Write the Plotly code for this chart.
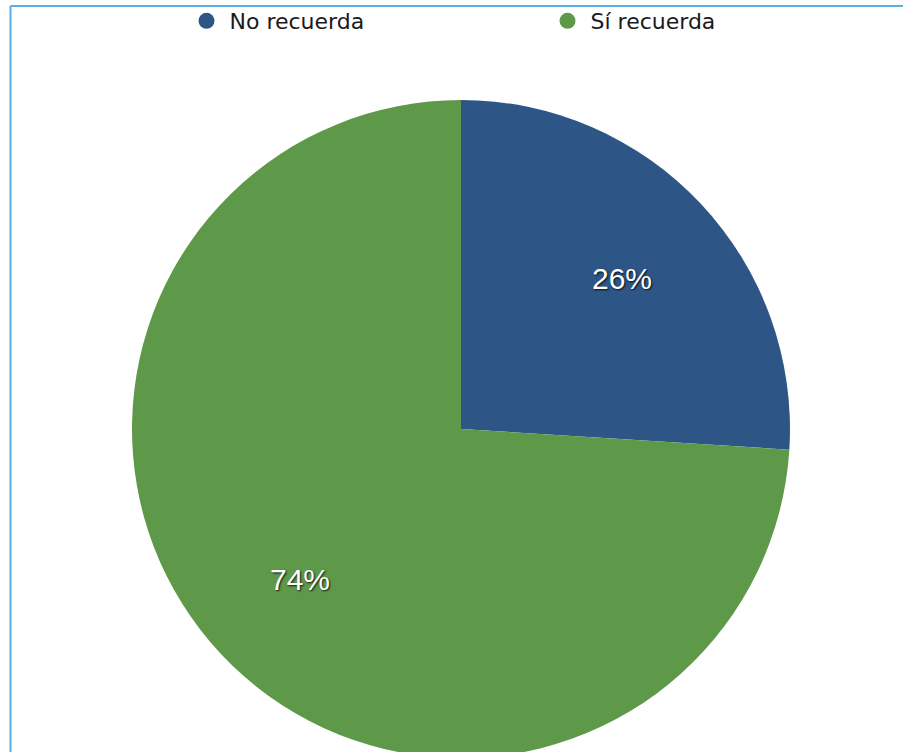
import math
import plotly.graph_objects as go

# Survey answers
labels = ["No recuerda", "Sí recuerda"]
values = [26, 74]
colors = ["#2d5687", "#5e994a"]

W, H = 950, 770
cx_px, cy_px, r_px = 461, 429, 329   # pie centre / radius in page pixels (from top-left)

fig = go.Figure()

fig.add_trace(go.Pie(
    labels=labels,
    values=values,
    sort=False,
    direction="clockwise",
    rotation=0,
    marker=dict(colors=colors, line=dict(width=0)),
    textinfo="none",
    hoverinfo="label+percent",
    showlegend=False,
    domain=dict(x=[(cx_px - r_px) / W, (cx_px + r_px) / W],
                y=[(H - cy_px - r_px) / H, (H - cy_px + r_px) / H]),
))

# Legend entries with round markers
for lab, col in zip(labels, colors):
    fig.add_trace(go.Scatter(
        x=[None], y=[None], mode="markers", name=lab,
        marker=dict(symbol="circle", size=17, color=col),
        showlegend=True, hoverinfo="skip",
    ))

# Percentage labels placed at the middle angle of each slice
total = sum(values)
start = 0.0
annotations = []
for v in values:
    frac = v / total
    mid = (start + frac / 2) * 2 * math.pi
    start += frac
    dist = 0.67 * r_px
    px = cx_px + dist * math.sin(mid)
    py = cy_px - dist * math.cos(mid)
    annotations.append(dict(
        x=px / W, y=(H - py) / H, xref="paper", yref="paper",
        xanchor="center", yanchor="middle",
        text=f"{round(frac * 100)}%", showarrow=False,
        font=dict(family="Liberation Sans, Arial", size=30, color="white",
                  shadow="1px 1px 2px rgba(0,0,0,0.85)"),
    ))

fig.update_layout(
    width=W, height=H,
    margin=dict(l=0, r=0, t=0, b=0, autoexpand=False),
    paper_bgcolor="white",
    plot_bgcolor="rgba(0,0,0,0)",
    xaxis=dict(visible=False),
    yaxis=dict(visible=False),
    annotations=annotations,
    legend=dict(
        orientation="h",
        x=183.5 / W, xanchor="left",
        y=1.0, yanchor="top",
        itemwidth=36,
        entrywidth=310, entrywidthmode="pixels",
        font=dict(family="DejaVu Sans", size=22, color="#1a1a1a"),
        bgcolor="rgba(0,0,0,0)",
    ),
    shapes=[
        dict(type="line", xref="paper", yref="paper",
             x0=10.5 / W, x1=1, y0=(H - 6) / H, y1=(H - 6) / H,
             line=dict(color="#5aaee2", width=2)),
        dict(type="line", xref="paper", yref="paper",
             x0=10.5 / W, x1=10.5 / W, y0=0, y1=(H - 6) / H,
             line=dict(color="#5aaee2", width=2)),
    ],
)

fig.write_html(
    "out.html",
    post_script="document.documentElement.style.overflow='hidden';"
                "document.body.style.overflow='hidden';document.body.style.margin='0';",
)
